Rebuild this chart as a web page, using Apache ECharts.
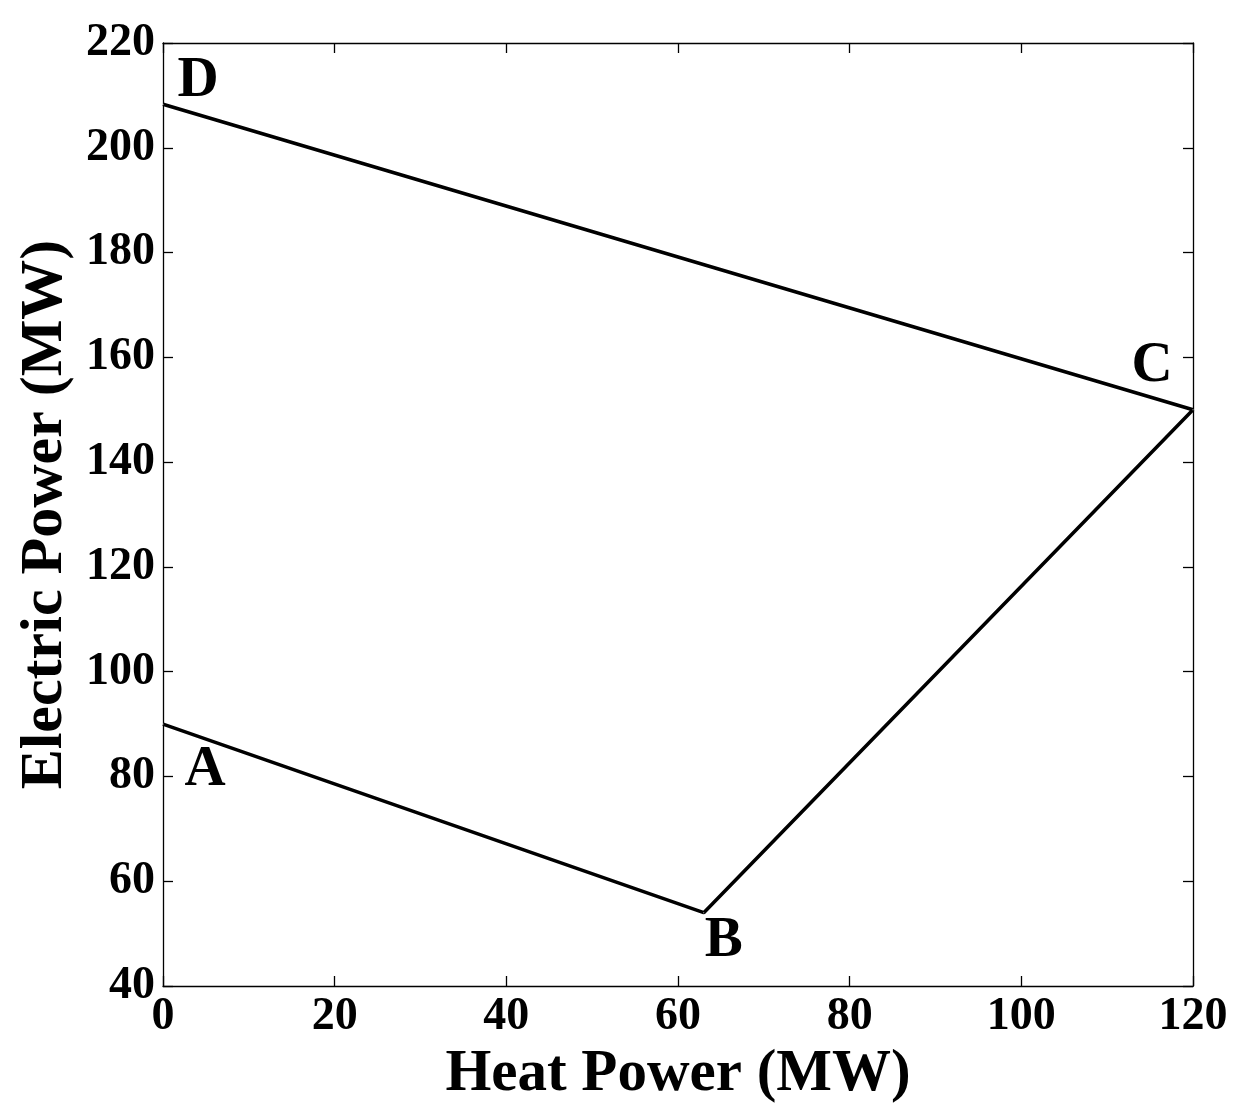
<!DOCTYPE html>
<html>
<head>
<meta charset="utf-8">
<script src="https://cdn.jsdelivr.net/npm/echarts@6/dist/echarts.min.js"></script>
<style>html,body{margin:0;padding:0;background:#fff}#c{width:1246px;height:1115px}</style>
</head>
<body>
<div id="c"></div>
<script>
// Data
var pointNames = ['A', 'B', 'C', 'D'];
var heatPower = [0, 63, 120, 0];
var electricPower = [90, 54, 150, 208.3];
var xTicks = [0, 20, 40, 60, 80, 100, 120];
var yTicks = [40, 60, 80, 100, 120, 140, 160, 180, 200, 220];

var labelOffsets = [[42, 46], [20, 29], [-41, -43], [35, -23]];
var FONT = 'Liberation Serif';

var lineData = heatPower.map(function (h, i) { return [h, electricPower[i]]; });
var labelData = heatPower.map(function (h, i) {
  return {
    value: [h, electricPower[i]],
    name: pointNames[i],
    label: { offset: labelOffsets[i] }
  };
});

var chart = echarts.init(document.getElementById('c'));
var axisCommon = {
  axisLine: { show: true, onZero: false, lineStyle: { color: '#000', width: 1.3 } },
  axisTick: { show: true, inside: true, length: 10, lineStyle: { color: '#000', width: 1.3 } },
  splitLine: { show: false }
};
chart.setOption({
  animation: false,
  backgroundColor: '#fff',
  grid: { left: 163, top: 43, right: 53, bottom: 129, containLabel: false },
  xAxis: [
    Object.assign({
      type: 'value', min: xTicks[0], max: xTicks[xTicks.length - 1], interval: 20,
      position: 'bottom',
      name: 'Heat Power (MW)', nameLocation: 'middle', nameGap: 58,
      nameTextStyle: { fontFamily: FONT, fontWeight: 'bold', fontSize: 59, color: '#000' },
      axisLabel: { fontFamily: FONT, fontWeight: 'bold', fontSize: 46, color: '#000', margin: 8 }
    }, axisCommon),
    Object.assign({
      type: 'value', min: xTicks[0], max: xTicks[xTicks.length - 1], interval: 20,
      position: 'top', axisLabel: { show: false }
    }, axisCommon)
  ],
  yAxis: [
    Object.assign({
      type: 'value', min: yTicks[0], max: yTicks[yTicks.length - 1], interval: 20,
      position: 'left',
      name: 'Electric Power (MW)', nameLocation: 'middle', nameGap: 75,
      nameTextStyle: { fontFamily: FONT, fontWeight: 'bold', fontSize: 60, color: '#000' },
      axisLabel: { fontFamily: FONT, fontWeight: 'bold', fontSize: 46, color: '#000', margin: 8 }
    }, axisCommon),
    Object.assign({
      type: 'value', min: yTicks[0], max: yTicks[yTicks.length - 1], interval: 20,
      position: 'right', axisLabel: { show: false }
    }, axisCommon)
  ],
  series: [
    {
      type: 'line', data: lineData, showSymbol: false, symbol: 'none',
      lineStyle: { color: '#000', width: 3.5 }, z: 3
    },
    {
      type: 'scatter', data: labelData, symbolSize: 1,
      itemStyle: { color: '#fff', opacity: 1 },
      label: {
        show: true, position: 'inside', formatter: '{b}', opacity: 1,
        textBorderWidth: 0, textBorderColor: 'transparent',
        fontFamily: FONT, fontWeight: 'bold', fontSize: 57, color: '#000'
      },
      emphasis: { disabled: true }, z: 4
    }
  ]
});
</script>
</body>
</html>
